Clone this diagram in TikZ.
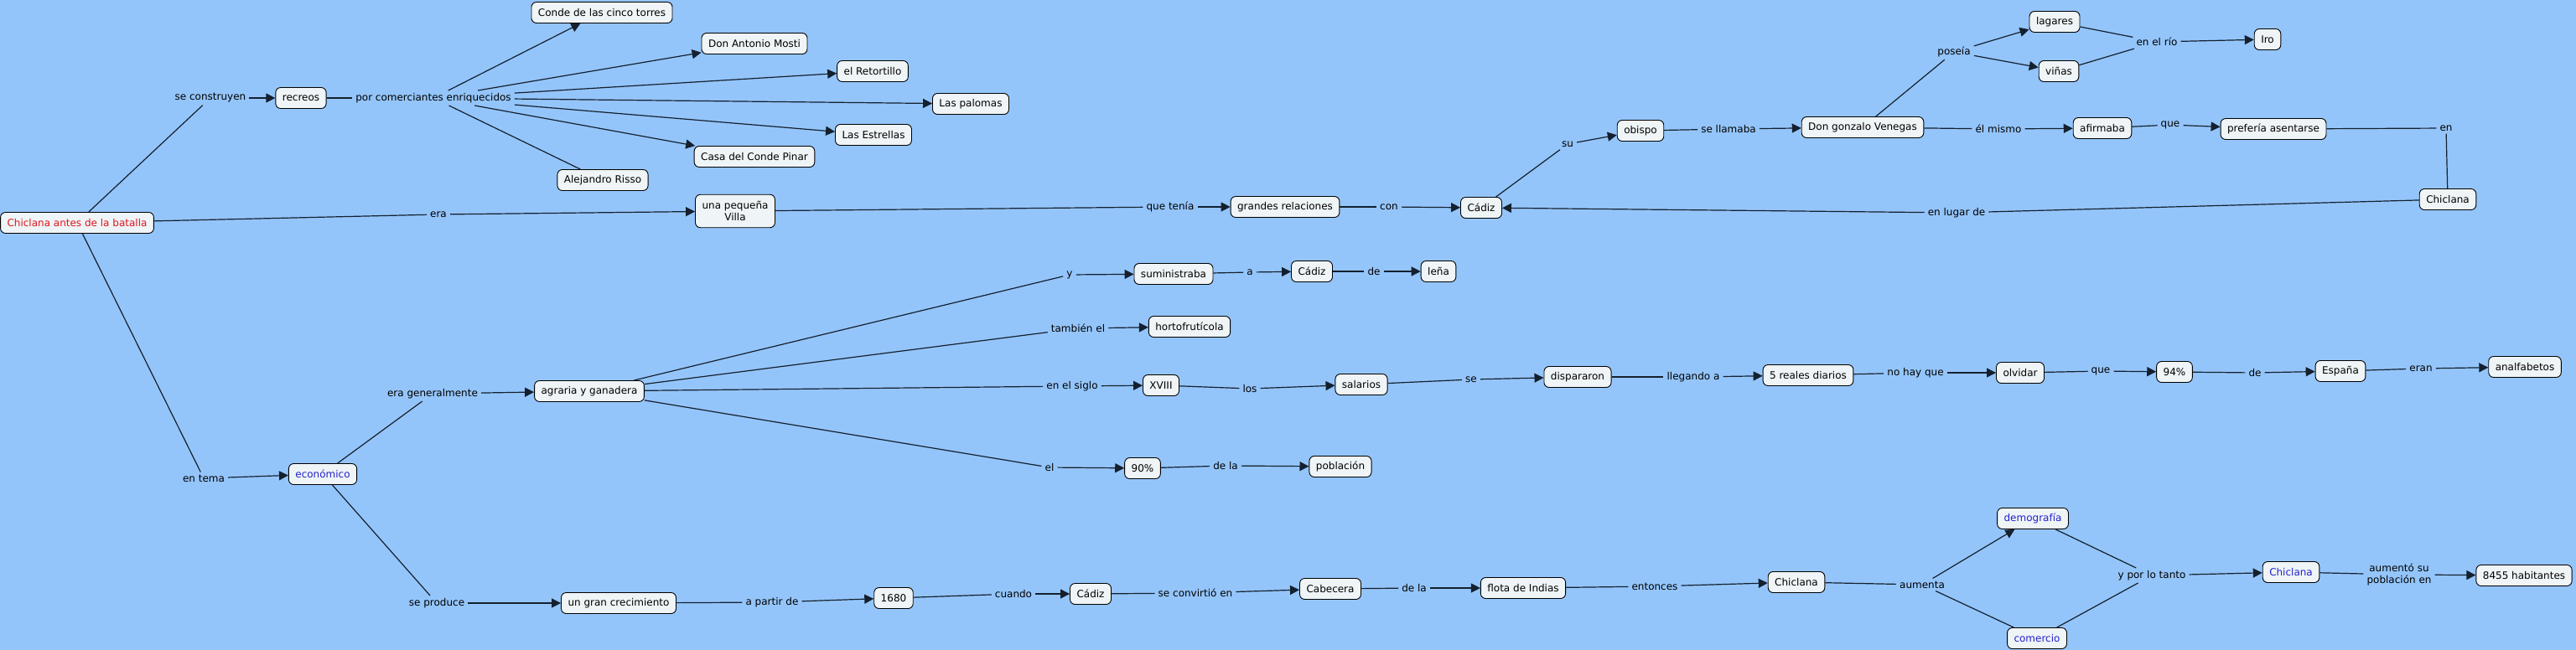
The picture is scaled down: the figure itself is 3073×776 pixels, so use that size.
\documentclass[tikz,border=0pt]{standalone}
\usepackage{fontspec}
\setmainfont{DejaVu Sans}
\usetikzlibrary{arrows.meta}
\definecolor{mapbg}{HTML}{94C5FA}
\definecolor{boxfill}{HTML}{EFF4F6}
\definecolor{linecol}{HTML}{14202E}
\definecolor{redtxt}{HTML}{E0161E}
\definecolor{bluetxt}{HTML}{2222CC}

\begin{document}
\begin{tikzpicture}[x=1pt, y=-1pt,
    concept/.style={draw=black, fill=boxfill, rounded corners=6pt, line width=0.9pt,
      inner xsep=8pt, inner ysep=4pt, minimum height=25pt,
      font=\fontsize{12}{14}\selectfont, align=center},
    phrase/.style={inner xsep=4pt, inner ysep=3pt, font=\fontsize{12}{14}\selectfont, align=center},
    link/.style={draw=linecol, line width=1.2pt},
    linkarrow/.style={link, -{Triangle[length=11pt,width=11pt]}}]
    \useasboundingbox (0,0) rectangle (3073,776);
    \fill[mapbg] (0,0) rectangle (3073,776);
    % root
    \node[concept, text=redtxt] (cab) at (92,266) {Chiclana antes de la batalla};
    % recreos
    \node[phrase] (lcons) at (251,117) {se construyen};
    \node[concept] (recreos) at (359,117) {recreos};
    \node[phrase] (lpor) at (517,117) {por comerciantes enriquecidos};
    \node[concept] (conde) at (718,15) {Conde de las cinco torres};
    \node[concept] (mosti) at (900,52) {Don Antonio Mosti};
    \node[concept] (retortillo) at (1041,85) {el Retortillo};
    \node[concept] (palomas) at (1158,124) {Las palomas};
    \node[concept] (estrellas) at (1042,161) {Las Estrellas};
    \node[concept] (pinar) at (900,187) {Casa del Conde Pinar};
    \node[concept] (risso) at (719,215) {Alejandro Risso};
    \draw[link] (cab) -- (lcons);
    \draw[linkarrow] (lcons) -- (recreos);
    \draw[link] (recreos) -- (lpor);
    \foreach \dst in {conde,mosti,retortillo,palomas,estrellas,pinar}{
      \draw[linkarrow] (lpor) -- (\dst);
    }
    \draw[link] (lpor) -- (risso);
    % villa
    \node[phrase] (lera) at (523,256) {era};
    \node[concept, inner ysep=8pt] (villa) at (877,252) {una pequeña\\Villa};
    \node[phrase] (ltenia) at (1396,247) {que tenía};
    \node[concept] (relaciones) at (1533,247) {grandes relaciones};
    \node[phrase] (lcon) at (1657,247) {con};
    \node[concept] (cadizA) at (1767,248) {Cádiz};
    \node[phrase] (lsu) at (1870,172) {su};
    \node[concept] (obispo) at (1957,156) {obispo};
    \node[phrase] (lllamaba) at (2062,154) {se llamaba};
    \node[concept] (venegas) at (2222,152) {Don gonzalo Venegas};
    \node[phrase] (lposeia) at (2331,62) {poseía};
    \node[concept] (lagares) at (2451,26) {lagares};
    \node[concept] (vinas) at (2456,85) {viñas};
    \node[phrase] (lrio) at (2573,50) {en el río};
    \node[concept] (iro) at (2705,47) {Iro};
    \node[phrase] (lmismo) at (2384,154) {él mismo};
    \node[concept] (afirmaba) at (2508,153) {afirmaba};
    \node[phrase] (lque) at (2589,149) {que};
    \node[concept] (asentarse) at (2712,154) {prefería asentarse};
    \node[phrase] (len) at (2918,153) {en};
    \node[concept] (chiclanaA) at (2920,238) {Chiclana};
    \node[phrase] (llugar) at (2334,254) {en lugar de};
    \draw[link] (cab) -- (lera);
    \draw[linkarrow] (lera) -- (villa);
    \draw[link] (villa) -- (ltenia);
    \draw[linkarrow] (ltenia) -- (relaciones);
    \draw[link] (relaciones) -- (lcon);
    \draw[linkarrow] (lcon) -- (cadizA);
    \draw[link] (cadizA) -- (lsu);
    \draw[linkarrow] (lsu) -- (obispo);
    \draw[link] (obispo) -- (lllamaba);
    \draw[linkarrow] (lllamaba) -- (venegas);
    \draw[link] (venegas) -- (lposeia);
    \draw[linkarrow] (lposeia) -- (lagares);
    \draw[linkarrow] (lposeia) -- (vinas);
    \draw[link] (lagares) -- (lrio);
    \draw[link] (vinas) -- (lrio);
    \draw[linkarrow] (lrio) -- (iro);
    \draw[link] (venegas) -- (lmismo);
    \draw[linkarrow] (lmismo) -- (afirmaba);
    \draw[link] (afirmaba) -- (lque);
    \draw[linkarrow] (lque) -- (asentarse);
    \draw[link] (asentarse) -- (len);
    \draw[link] (len) -- (chiclanaA);
    \draw[link] (chiclanaA) -- (llugar);
    \draw[linkarrow] (llugar) -- (cadizA);
    % economico
    \node[phrase] (ltema) at (243,571) {en tema};
    \node[concept, text=bluetxt] (economico) at (385,566) {económico};
    \node[phrase] (lgeneral) at (516,470) {era generalmente};
    \node[concept] (agraria) at (703,467) {agraria y ganadera};
    \node[phrase] (ly) at (1276,328) {y};
    \node[concept] (suministraba) at (1400,327) {suministraba};
    \node[phrase] (la) at (1491,325) {a};
    \node[concept] (cadizB) at (1565,324) {Cádiz};
    \node[phrase] (lde) at (1639,324) {de};
    \node[concept] (lena) at (1716,324) {leña};
    \node[phrase] (ltambien) at (1286,392) {también el};
    \node[concept] (horto) at (1419,390) {hortofrutícola};
    \node[phrase] (lsiglo) at (1279,461) {en el siglo};
    \node[concept] (xviii) at (1385,460) {XVIII};
    \node[phrase] (llos) at (1491,464) {los};
    \node[concept] (salarios) at (1624,459) {salarios};
    \node[phrase] (lse) at (1755,453) {se};
    \node[concept] (dispararon) at (1882,450) {dispararon};
    \node[phrase] (lllegando) at (2020,450) {llegando a};
    \node[concept] (reales) at (2157,448) {5 reales diarios};
    \node[phrase] (lnohay) at (2285,445) {no hay que};
    \node[concept] (olvidar) at (2410,445) {olvidar};
    \node[phrase] (lque2) at (2506,443) {que};
    \node[concept] (p94) at (2594,444) {94\%};
    \node[phrase] (lde2) at (2690,445) {de};
    \node[concept] (espana) at (2792,443) {España};
    \node[phrase] (leran) at (2888,440) {eran};
    \node[concept] (analf) at (3012,438) {analfabetos};
    \node[phrase] (lel) at (1252,558) {el};
    \node[concept] (p90) at (1363,559) {90\%};
    \node[phrase] (ldela) at (1462,556) {de la};
    \node[concept] (poblacion) at (1599,557) {población};
    \draw[link] (cab) -- (ltema);
    \draw[linkarrow] (ltema) -- (economico);
    \draw[link] (economico) -- (lgeneral);
    \draw[linkarrow] (lgeneral) -- (agraria);
    \draw[link] (agraria) -- (ly);
    \draw[linkarrow] (ly) -- (suministraba);
    \draw[link] (suministraba) -- (la);
    \draw[linkarrow] (la) -- (cadizB);
    \draw[link] (cadizB) -- (lde);
    \draw[linkarrow] (lde) -- (lena);
    \draw[link] (agraria) -- (ltambien);
    \draw[linkarrow] (ltambien) -- (horto);
    \draw[link] (agraria) -- (lsiglo);
    \draw[linkarrow] (lsiglo) -- (xviii);
    \draw[link] (xviii) -- (llos);
    \draw[linkarrow] (llos) -- (salarios);
    \draw[link] (salarios) -- (lse);
    \draw[linkarrow] (lse) -- (dispararon);
    \draw[link] (dispararon) -- (lllegando);
    \draw[linkarrow] (lllegando) -- (reales);
    \draw[link] (reales) -- (lnohay);
    \draw[linkarrow] (lnohay) -- (olvidar);
    \draw[link] (olvidar) -- (lque2);
    \draw[linkarrow] (lque2) -- (p94);
    \draw[link] (p94) -- (lde2);
    \draw[linkarrow] (lde2) -- (espana);
    \draw[link] (espana) -- (leran);
    \draw[linkarrow] (leran) -- (analf);
    \draw[link] (agraria) -- (lel);
    \draw[linkarrow] (lel) -- (p90);
    \draw[link] (p90) -- (ldela);
    \draw[linkarrow] (ldela) -- (poblacion);
    % crecimiento
    \node[phrase] (lproduce) at (521,720) {se produce};
    \node[concept] (crecimiento) at (738,720) {un gran crecimiento};
    \node[phrase] (lpartir) at (921,719) {a partir de};
    \node[concept] (y1680) at (1066,714) {1680};
    \node[phrase] (lcuando) at (1209,709) {cuando};
    \node[concept] (cadizC) at (1301,709) {Cádiz};
    \node[phrase] (lconvirtio) at (1426,708) {se convirtió en};
    \node[concept] (cabecera) at (1587,703) {Cabecera};
    \node[phrase] (ldela2) at (1687,702) {de la};
    \node[concept] (flota) at (1817,702) {flota de Indias};
    \node[phrase] (lentonces) at (1974,700) {entonces};
    \node[concept] (chiclanaB) at (2143,695) {Chiclana};
    \node[phrase] (laumenta) at (2293,698) {aumenta};
    \node[concept, text=bluetxt] (demografia) at (2425,619) {demografía};
    \node[concept, text=bluetxt] (comercio) at (2430,762) {comercio};
    \node[phrase] (lportanto) at (2567,687) {y por lo tanto};
    \node[concept, text=bluetxt] (chiclanaC) at (2733,683) {Chiclana};
    \node[phrase, inner ysep=1pt] (laumento) at (2862,686) {aumentó su\\población en};
    \node[concept] (habitantes) at (3011,687) {8455 habitantes};
    \draw[link] (economico) -- (lproduce);
    \draw[linkarrow] (lproduce) -- (crecimiento);
    \draw[link] (crecimiento) -- (lpartir);
    \draw[linkarrow] (lpartir) -- (y1680);
    \draw[link] (y1680) -- (lcuando);
    \draw[linkarrow] (lcuando) -- (cadizC);
    \draw[link] (cadizC) -- (lconvirtio);
    \draw[linkarrow] (lconvirtio) -- (cabecera);
    \draw[link] (cabecera) -- (ldela2);
    \draw[linkarrow] (ldela2) -- (flota);
    \draw[link] (flota) -- (lentonces);
    \draw[linkarrow] (lentonces) -- (chiclanaB);
    \draw[link] (chiclanaB) -- (laumenta);
    \draw[linkarrow] (laumenta) -- (demografia);
    \draw[link] (laumenta) -- (comercio);
    \draw[link] (demografia) -- (lportanto);
    \draw[link] (comercio) -- (lportanto);
    \draw[linkarrow] (lportanto) -- (chiclanaC);
    \draw[link] (chiclanaC) -- (laumento);
    \draw[linkarrow] (laumento) -- (habitantes);
\end{tikzpicture}
\end{document}
